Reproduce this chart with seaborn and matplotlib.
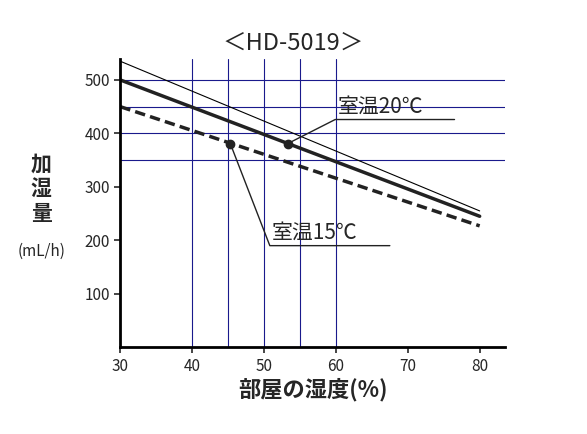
import matplotlib
matplotlib.use('Agg')
import matplotlib.pyplot as plt
import seaborn as sns
import pandas as pd

sns.set_style('white')
plt.rcParams['font.family'] = ['Noto Sans CJK JP', 'DejaVu Sans']

# humidity (%) and output (mL/h)
humidity = [30, 80]
upper_line = [535, 255]
room_20 = [500, 245]
room_15 = [450, 227]
grid_y = [500, 450, 400, 350]
grid_x = [40, 45, 50, 55, 60]
point_20 = (53.3, 381)
point_15 = (45.3, 381)

df = pd.DataFrame({'humidity': humidity, 'upper': upper_line, 'r20': room_20, 'r15': room_15})

fig, ax = plt.subplots(figsize=(5.87, 4.34), dpi=100)
fig.subplots_adjust(left=0.205, right=0.86, top=0.865, bottom=0.2)

for y in grid_y:
    ax.plot([30, 83.5], [y, y], color='#1a1a8c', lw=0.8, zorder=1)
for x in grid_x:
    ax.plot([x, x], [0, 540], color='#1a1a8c', lw=0.8, zorder=1)

sns.lineplot(data=df, x='humidity', y='upper', ax=ax, color='black', lw=0.8)
sns.lineplot(data=df, x='humidity', y='r20', ax=ax, color='#222', lw=2.5)
sns.lineplot(data=df, x='humidity', y='r15', ax=ax, color='#222', lw=2.5, linestyle=(0, (3, 1.5)))

ax.plot(*point_20, 'o', color='#222', ms=6, zorder=5)
ax.plot(*point_15, 'o', color='#222', ms=6, zorder=5)

# leader lines and labels
ax.plot([point_20[0], 59.9, 76.5], [point_20[1], 426, 426], color='#222', lw=1)
ax.text(60.3, 430, '室温20℃', fontsize=15, ha='left', va='bottom')
ax.plot([point_15[0], 50.8, 67.5], [point_15[1], 190, 190], color='#222', lw=1)
ax.text(51.0, 194, '室温15℃', fontsize=15, ha='left', va='bottom')

ax.set_xlim(30, 83.5)
ax.set_ylim(0, 540)
ax.set_xticks([30, 40, 50, 60, 70, 80])
ax.set_yticks([100, 200, 300, 400, 500])
ax.tick_params(axis='both', labelsize=11, direction='out', length=4, width=1.2, left=True, bottom=True)
for s in ['top', 'right']:
    ax.spines[s].set_visible(False)
for s in ['left', 'bottom']:
    ax.spines[s].set_color('black')
    ax.spines[s].set_linewidth(2)

ax.set_xlabel('部屋の湿度(%)', fontsize=16, fontweight='bold', labelpad=2)
ax.set_ylabel('')
fig.text(0.07, 0.565, '加\n湿\n量', fontsize=15, fontweight='bold', ha='center', va='center', linespacing=1.2)
fig.text(0.07, 0.42, '(mL/h)', fontsize=11, ha='center', va='center')
fig.text(0.5, 0.9, '＜HD-5019＞', fontsize=17, ha='center', va='center')

fig.savefig('out.png', dpi=100)
